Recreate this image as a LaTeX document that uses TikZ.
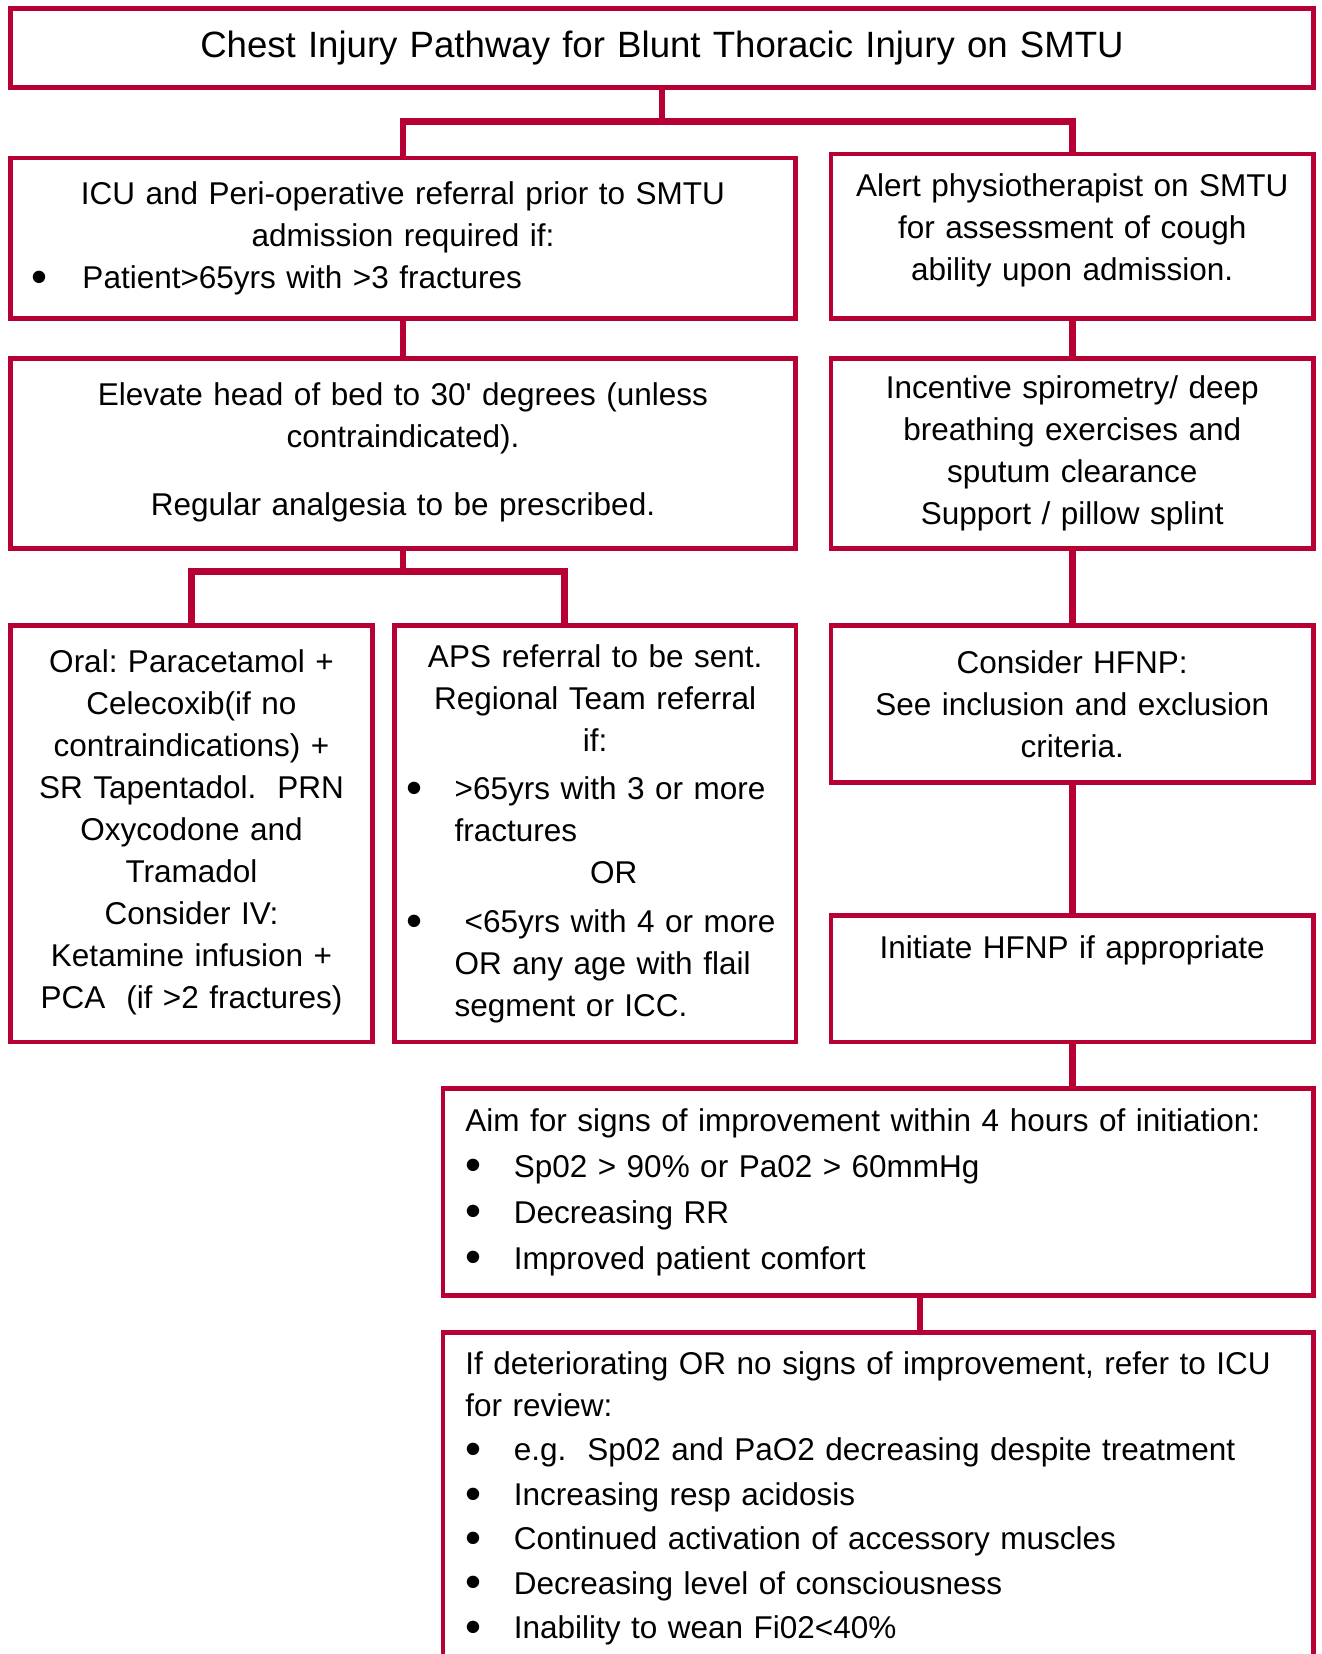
\documentclass[tikz,border=0pt]{standalone}
\usepackage{fontspec}
\setmainfont{Liberation Sans}
\usetikzlibrary{positioning, calc}
\definecolor{pathred}{RGB}{183,0,51}
\frenchspacing
\newcommand{\bitem}[3]{\makebox[#2][l]{\hspace*{\dimexpr#1-4pt\relax}\raisebox{-1.9pt}{\scalebox{1.45}{\textbullet}}}#3}
\newcommand{\lline}[1]{\makebox[\linewidth][l]{#1}}
\tikzset{
  box/.style     = {draw=pathred, line width=2.2pt, outer sep=0pt, inner xsep=0pt,
                    inner ysep=0pt, align=center, font=\fontsize{15.75}{21}\selectfont},
  leftbox/.style = {box, align=left, inner xsep=11.2pt, text width=412.85pt},
  link/.style    = {draw=pathred, line width=3.4pt},
}
\begin{document}
\begin{tikzpicture}
  \node[box, text width=651.5pt, minimum height=39.5pt, font=\fontsize{18.3}{22}\selectfont] (title)
       {Chest Injury Pathway for Blunt Thoracic Injury on SMTU};
  \useasboundingbox ([shift={(-5.25pt,4.2pt)}]title.north west) rectangle ++(661pt,-827pt);

  \node[box, below right=35.2pt and 0pt of title.south west, text width=392.5pt, minimum height=80.3pt] (icu)
       {ICU and Peri-operative referral prior to SMTU\\ admission required if:\\
        \lline{\bitem{14.75pt}{36pt}{Patient>65yrs with >3 fractures}}};
  \node[box, below left=33.2pt and 0pt of title.south east, text width=241.25pt, minimum height=82.3pt] (physio)
       {Alert physiotherapist on SMTU\\ for assessment of cough\\ ability upon admission.\\[-12pt]\mbox{}};
  \node[box, below=20pt of icu, text width=392.5pt, minimum height=95pt] (elevate)
       {Elevate head of bed to 30\textquotesingle{} degrees (unless\\ contraindicated).\\[13pt]
        Regular analgesia to be prescribed.\\[-16.8pt]\mbox{}};
  \node[box, below=20pt of physio, text width=241.25pt, minimum height=95pt] (spiro)
       {Incentive spirometry/ deep\\ breathing exercises and\\ sputum clearance\\ Support / pillow splint};
  \node[box, below right=38.5pt and 0pt of elevate.south west, text width=181pt, minimum height=208.35pt] (oral)
       {Oral: Paracetamol +\\ Celecoxib(if no\\ contraindications) +\\ SR Tapentadol.\ \ PRN\\
        Oxycodone and\\ Tramadol\\ Consider IV:\\ Ketamine infusion +\\ PCA\ \ (if >2 fractures)\\[-16pt]\mbox{}};
  \node[box, right=11.1pt of oral, text width=200.5pt, minimum height=208.35pt] (aps)
       {APS referral to be sent.\\ Regional Team referral\\ if:\\[3.2pt]
        \lline{\bitem{10pt}{30pt}{>65yrs with 3 or more}}\\
        \lline{\hspace*{30pt}fractures}\\
        \lline{\hspace*{97.7pt}OR}\\[3.2pt]
        \lline{\bitem{10pt}{30pt}{\hspace*{5pt}<65yrs with 4 or more}}\\
        \lline{\hspace*{30pt}OR any age with flail}\\
        \lline{\hspace*{30pt}segment or ICC.}};
  \node[box, below=38.5pt of spiro, text width=241.25pt, minimum height=78.6pt] (hfnp)
       {Consider HFNP:\\ See inclusion and exclusion\\ criteria.};
  \node[box, below=66.45pt of hfnp, text width=241.25pt, minimum height=63.3pt] (initiate)
       {Initiate HFNP if appropriate\\[11pt]\mbox{}};
  \node[leftbox, below left=23.25pt and 0pt of initiate.south east, minimum height=103.35pt] (aim)
       {Aim for signs of improvement within 4 hours of initiation:\\[2pt]
        \bitem{4.2pt}{24.2pt}{Sp02 > 90\% or Pa02 > 60mmHg}\\[2pt]
        \bitem{4.2pt}{24.2pt}{Decreasing RR}\\[2pt]
        \bitem{4.2pt}{24.2pt}{Improved patient comfort}};
  \node[leftbox, below=18.5pt of aim, minimum height=166pt] (review)
       {If deteriorating OR no signs of improvement, refer to ICU\\ for review:\\[1.2pt]
        \bitem{4.2pt}{24.2pt}{e.g.\ \ Sp02 and PaO2 decreasing despite treatment}\\[1.2pt]
        \bitem{4.2pt}{24.2pt}{Increasing resp acidosis}\\[1.2pt]
        \bitem{4.2pt}{24.2pt}{Continued activation of accessory muscles}\\[1.2pt]
        \bitem{4.2pt}{24.2pt}{Decreasing level of consciousness}\\[1.2pt]
        \bitem{4.2pt}{24.2pt}{Inability to wean Fi02<40\%}};

  % split under the title
  \draw[link] (title.south) -- ++(0,-16.85pt) coordinate (split);
  \draw[link] (icu.north) |- (split) -| (physio.north);
  \draw[link] (icu.south) -- (elevate.north);
  \draw[link] (physio.south) -- (spiro.north);
  % split under the analgesia box
  \draw[link] (elevate.south) -- ++(0,-11.6pt) coordinate (split2);
  \draw[link] (oral.north) |- (split2) -| ([xshift=-15.3pt]aps.north);
  \draw[link] (spiro.south) -- (hfnp.north);
  \draw[link] (hfnp.south) -- (initiate.north);
  \draw[link] (initiate.south) -- (initiate.south |- aim.north);
  \draw[link] ([xshift=20.85pt]aim.south) -- ([xshift=20.85pt]review.north);
\end{tikzpicture}
\end{document}
